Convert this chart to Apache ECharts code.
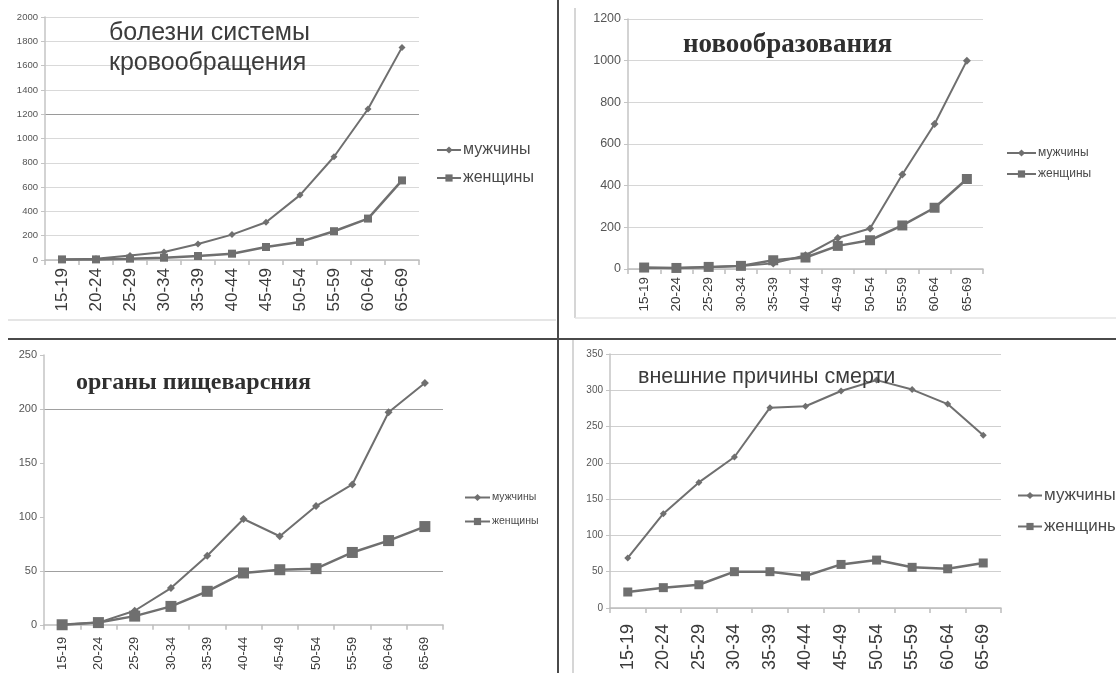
<!DOCTYPE html>
<html>
<head>
<meta charset="utf-8">
<script src="https://cdn.jsdelivr.net/npm/echarts@6/dist/echarts.min.js"></script>
<style>
html,body{margin:0;padding:0;background:#fff;}
#chart{width:1116px;height:673px;}
</style>
</head>
<body>
<div id="chart"></div>
<script>
// ---- data ----
const ageGroups = ['15-19','20-24','25-29','30-34','35-39','40-44','45-49','50-54','55-59','60-64','65-69'];
const seriesNames = ['мужчины','женщины'];
const titles = ['болезни системы\nкровообращения','новообразования','органы пищеварсния','внешние причины смерти'];

const circMen   = [5, 10, 38, 66, 132, 209, 311, 534, 850, 1243, 1750];
const circWomen = [5, 5, 11, 19, 33, 52, 107, 149, 237, 341, 655];

const neoMen    = [5, 5, 8, 14, 27, 66, 149, 194, 454, 696, 1000];
const neoWomen  = [7, 5, 10, 15, 42, 55, 111, 138, 209, 294, 432];

const digMen    = [0, 2, 13, 34, 64, 98, 82, 110, 130, 197, 224];
const digWomen  = [0, 2, 8, 17, 31, 48, 51, 52, 67, 78, 91];

const extMen    = [69, 130, 173, 208, 276, 278, 299, 314, 301, 281, 238];
const extWomen  = [22, 28, 32, 50, 50, 44, 60, 66, 56, 54, 62];

const yMax = [2000, 1200, 250, 350];
const yStep = [200, 200, 50, 50];

// ---- layout / style ----
const LINE = '#6f6f6f';
const FONT = 'Liberation Sans';
const grids = [
  {left: 45,  top: 17,  width: 374, height: 243},
  {left: 628, top: 19,  width: 355, height: 250},
  {left: 44,  top: 355, width: 399, height: 270},
  {left: 610, top: 354, width: 391, height: 255}
];
const xLabelFont = [17, 13.5, 13, 18];
const xLabelMargin = [8, 8, 12, 16];
const yLabelFont = [9.5, 12.5, 11, 10];
const splitColors = [
  ['#d9d9d9','#d9d9d9','#d9d9d9','#d9d9d9','#d9d9d9','#d9d9d9','#9a9a9a','#d9d9d9','#d9d9d9','#d9d9d9','#d9d9d9'],
  ['#d6d6d6'],
  ['rgba(0,0,0,0)','#a0a0a0','rgba(0,0,0,0)','rgba(0,0,0,0)','#a0a0a0','rgba(0,0,0,0)'],
  ['#cfcfcf']
];
const menSym = [7, 8, 8, 7];
const womenSym = [8, 10, 11, 9];
const dataSets = [[circMen, circWomen],[neoMen, neoWomen],[digMen, digWomen],[extMen, extWomen]];

const xAxes = [], yAxes = [], series = [], legends = [];
grids.forEach((g, i) => {
  xAxes.push({
    type: 'category', gridIndex: i, data: ageGroups, boundaryGap: true,
    axisLine: {lineStyle: {color: '#bdbdbd', width: 1.5}},
    axisTick: {show: true, length: 5, lineStyle: {color: '#bdbdbd', width: 1.5}},
    axisLabel: {rotate: 90, fontSize: xLabelFont[i], color: '#3a3a3a', fontFamily: FONT, margin: xLabelMargin[i], interval: 0}
  });
  yAxes.push({
    type: 'value', gridIndex: i, min: 0, max: yMax[i], interval: yStep[i],
    axisLine: {show: true, lineStyle: {color: '#c4c4c4', width: 1.5}},
    axisTick: {show: true, length: 4, lineStyle: {color: '#c4c4c4'}},
    axisLabel: {fontSize: yLabelFont[i], color: '#555', fontFamily: FONT, margin: 7, formatter: v => String(v)},
    splitLine: {show: true, lineStyle: {color: splitColors[i], width: 1.2}}
  });
  series.push({
    name: seriesNames[0], type: 'line', xAxisIndex: i, yAxisIndex: i, data: dataSets[i][0],
    symbol: 'diamond', symbolSize: menSym[i], showAllSymbol: true,
    lineStyle: {color: LINE, width: 2}, itemStyle: {color: LINE}
  });
  series.push({
    name: seriesNames[1], type: 'line', xAxisIndex: i, yAxisIndex: i, data: dataSets[i][1],
    symbol: 'rect', symbolSize: womenSym[i], showAllSymbol: true,
    lineStyle: {color: LINE, width: 2.5}, itemStyle: {color: LINE}
  });
});

const legendCfg = [
  {left: 436, top: 142, itemWidth: 24, fontSize: 16, itemGap: 12},
  {left: 1006, top: 147, itemWidth: 29, fontSize: 12, itemGap: 9},
  {left: 464, top: 492, itemWidth: 25, fontSize: 10.5, itemGap: 13},
  {left: 1017, top: 487, itemWidth: 24, fontSize: 17, itemGap: 14}
];
legendCfg.forEach(c => {
  legends.push({
    data: seriesNames, orient: 'vertical', left: c.left, top: c.top, padding: 0,
    itemWidth: c.itemWidth, itemHeight: 9, itemGap: c.itemGap, selectedMode: false,
    textStyle: {fontSize: c.fontSize, color: '#4a4a4a', fontFamily: FONT, padding: [0,0,0,-3]}
  });
});

const titleCfg = [
  {left: 109, top: 18, font: FONT, size: 25, weight: 'normal', lh: 30, color: '#3c3c3c'},
  {left: 683, top: 30, font: 'Liberation Serif', size: 27, weight: 'bold', lh: 30, color: '#2f2f2f'},
  {left: 76, top: 368, font: 'Liberation Serif', size: 24, weight: 'bold', lh: 30, color: '#2f2f2f'},
  {left: 638, top: 364, font: FONT, size: 21.5, weight: 'normal', lh: 26, color: '#3c3c3c'}
];
const titleArr = titleCfg.map((c, i) => ({
  text: titles[i], left: c.left, top: c.top, padding: 0,
  textStyle: {fontFamily: c.font, fontSize: c.size, fontWeight: c.weight, lineHeight: c.lh, color: c.color}
}));

const option = {
  backgroundColor: '#fff',
  animation: false,
  title: titleArr,
  legend: legends,
  grid: grids,
  xAxis: xAxes,
  yAxis: yAxes,
  series: series,
  graphic: [
    {type: 'line', shape: {x1: 8, y1: 320, x2: 556, y2: 320}, style: {stroke: '#dcdcdc', lineWidth: 1.5}, silent: true},
    {type: 'line', shape: {x1: 575, y1: 8, x2: 575, y2: 318}, style: {stroke: '#c8c8c8', lineWidth: 1.5}, silent: true},
    {type: 'line', shape: {x1: 575, y1: 318, x2: 1116, y2: 318}, style: {stroke: '#e4e4e4', lineWidth: 1.5}, silent: true},
    {type: 'line', shape: {x1: 573, y1: 340, x2: 573, y2: 673}, style: {stroke: '#c8c8c8', lineWidth: 1.5}, silent: true},
    {type: 'line', shape: {x1: 558, y1: 0, x2: 558, y2: 673}, style: {stroke: '#4a4a4a', lineWidth: 2}, silent: true},
    {type: 'line', shape: {x1: 8, y1: 339, x2: 1116, y2: 339}, style: {stroke: '#4a4a4a', lineWidth: 2}, silent: true}
  ]
};

const chart = echarts.init(document.getElementById('chart'), null, {renderer: 'canvas'});
chart.setOption(option);
</script>
</body>
</html>
